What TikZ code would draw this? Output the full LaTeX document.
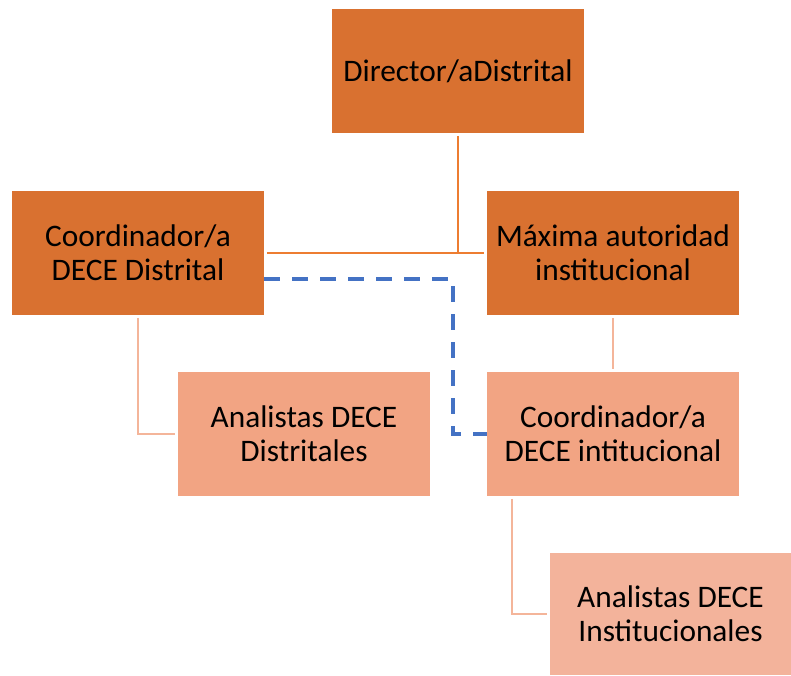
\documentclass[tikz,border=0pt]{standalone}
\usepackage{fontspec}
\setmainfont{Carlito}
\usepackage{xcolor}
\usetikzlibrary{positioning}
\definecolor{darkor}{HTML}{D97130}
\definecolor{lightor}{HTML}{F2A483}
\definecolor{paleor}{HTML}{F3B39B}
\definecolor{lineor}{HTML}{ED7D31}
\definecolor{linelt}{HTML}{F4B59A}
\definecolor{dashbl}{HTML}{4472C4}

\begin{document}
\begin{tikzpicture}[x=0.75pt, y=-0.75pt,
    box/.style={rectangle, align=center, inner sep=2pt, minimum width=189pt, minimum height=93pt,
        font=\fontsize{23.5}{25.5}\selectfont},
    topbox/.style={box, fill=darkor},
    lowbox/.style={box, fill=lightor},
    link/.style={lineor, line width=1.7pt, shorten <=2pt},
    sublink/.style={linelt, line width=1.7pt, shorten <=2pt, shorten >=2pt}]
    \useasboundingbox (0,0) rectangle (791,675);

    \node[topbox] (dir) at (458,71) {Director/aDistrital};
    \node[topbox] (cdis) at (138,253) {Coordinador/a\\DECE Distrital};
    \node[topbox] (max) at (613,253) {Máxima autoridad\\institucional};

    \node[lowbox] (adis) at (304,434) {Analistas DECE\\Distritales};
    \node[lowbox] (cins) at (613,434) {Coordinador/a\\DECE intitucional};
    \node[box, fill=paleor, minimum width=181pt, minimum height=91.5pt] (ains) at (670.5,614) {Analistas DECE\\Institucionales};

    \draw[link] (dir.south) -- (dir |- cdis);
    \draw[link, shorten >=2pt] (cdis.east) -- (max.west);
    \draw[sublink] (max.south) -- (cins.north);
    \draw[sublink] (cdis.south) |- (adis.west);
    \draw[sublink] ([xshift=18.75pt]cins.south west) |- (ains.west);

    \draw[dashbl, line width=2.8pt, dash pattern=on 12pt off 9pt]
        ([yshift=-19.5pt]cdis.east) -- ++(189,0) |- (cins.west);
\end{tikzpicture}
\end{document}
